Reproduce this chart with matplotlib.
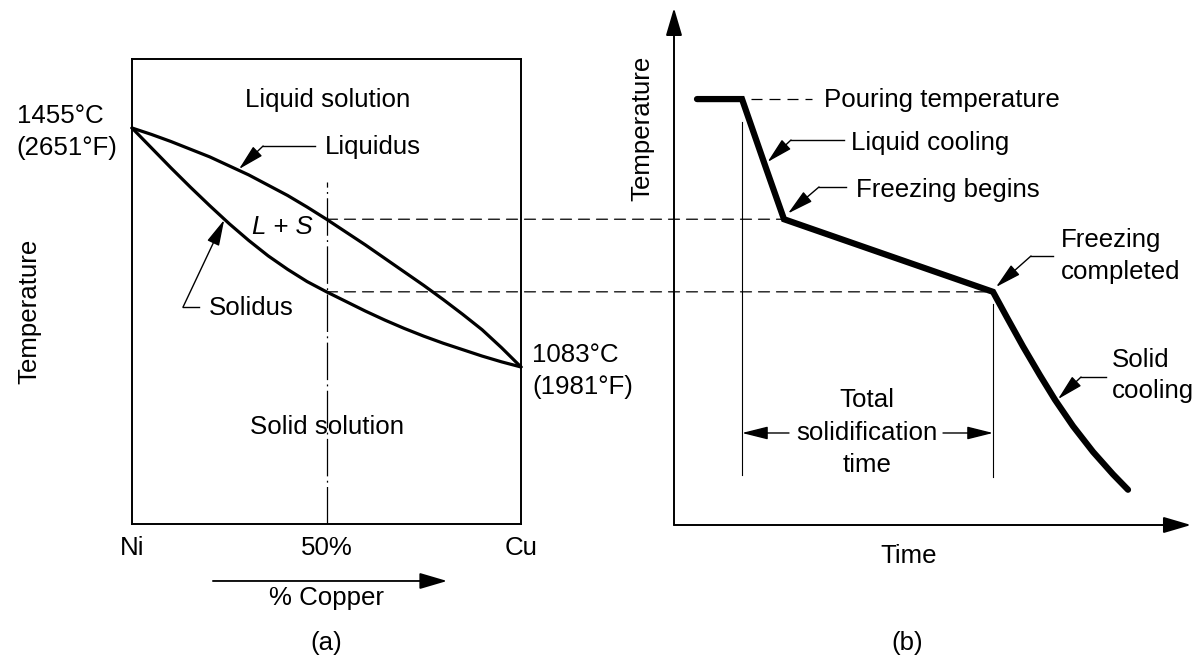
import matplotlib
matplotlib.use("Agg")
import matplotlib.pyplot as plt
from matplotlib.patches import ConnectionPatch

plt.rcParams['font.family'] = ['Liberation Sans', 'DejaVu Sans']

# ---------------- data: (a) Cu-Ni phase diagram ----------------
copper_pct = [0, 5, 10, 15, 20, 25, 30, 35, 40, 45, 50,
              55, 60, 65, 70, 75, 80, 85, 90, 95, 100]
liquidus_T = [1455, 1445, 1434, 1422, 1410, 1396, 1382, 1366, 1350, 1332, 1313,
              1293, 1273, 1252, 1231, 1210, 1188, 1165, 1141, 1113, 1083]
solidus_T = [1455, 1424, 1393, 1363, 1334, 1306, 1280, 1256, 1235, 1216, 1200,
             1185, 1170, 1156, 1143, 1131, 1120, 1110, 1100, 1091, 1083]
comp_labels = ['Ni', '50%', 'Cu']
comp_label_pos = [0, 50, 100]
alloy_pct = 50
freeze_begin_T = 1313
freeze_end_T = 1200

# ---------------- data: (b) cooling curve ----------------
time_pts = [2.3, 6.8, 9.1, 11.0, 31.9, 33.3, 34.9, 36.6, 38.1, 39.9, 41.9, 43.9, 45.4]
temp_pts = [1500, 1500, 1397, 1313, 1200, 1160, 1115, 1070, 1032, 991, 951, 916, 892]
pour_end_t = 6.8
freeze_begin_t = 11.0
freeze_end_t = 31.9

FS = 18.6
W, H = 1194, 659


def px_rect(x0, y0, x1, y1):
    return [x0 / W, 1 - y1 / H, (x1 - x0) / W, (y1 - y0) / H]


fig = plt.figure(figsize=(11.94, 6.59), dpi=100)
fig.patch.set_facecolor('white')

# ---------------- panel (a) ----------------
axA = fig.add_axes(px_rect(132, 59, 521, 524))
axA.set_xlim(0, 100)
axA.set_ylim(838.6, 1562.4)
axA.set_xticks([])
axA.set_yticks([])
for s in axA.spines.values():
    s.set_linewidth(1.4)

axA.plot(copper_pct, liquidus_T, color='k', lw=2.3, solid_capstyle='round',
         solid_joinstyle='round', clip_on=False, zorder=3)
axA.plot(copper_pct, solidus_T, color='k', lw=2.3, solid_capstyle='round',
         solid_joinstyle='round', clip_on=False, zorder=3)

# composition line (dash-dot)
axA.plot([alloy_pct, alloy_pct], [838.6, 1371], color='k', lw=0.9,
         linestyle=(0, (30, 3.5, 1.5, 3.5)), zorder=2)

txt = dict(fontsize=FS, color='k')
axA.text(50.4, 1498.6, 'Liquid solution', ha='center', va='center', **txt)
axA.text(50, 989.6, 'Solid solution', ha='center', va='center', **txt)
axA.text(38.6, 1301, 'L + S', ha='center', va='center', style='italic', **txt)
axA.text(-29.6, 1449, '1455°C\n(2651°F)', ha='left', va='center', linespacing=1.4, **txt)
axA.text(102.8, 1077, '1083°C\n(1981°F)', ha='left', va='center', linespacing=1.4, **txt)
axA.text(-26.5, 1170, 'Temperature', rotation=90, ha='center', va='center', **txt)
for lab, pos in zip(comp_labels, comp_label_pos):
    axA.text(pos, 801.3, lab, ha='center', va='center', **txt)
axA.text(50, 723.4, '% Copper', ha='center', va='center', **txt)
axA.text(50, 653.4, '(a)', ha='center', va='center', **txt)

# % Copper arrow
axA.annotate('', xy=(81.0, 749.9), xytext=(20.8, 749.9), xycoords='data',
             arrowprops=dict(arrowstyle='-|>,head_length=0.85,head_width=0.25',
                             mutation_scale=20, lw=1.3, color='k',
                             shrinkA=0, shrinkB=0), annotation_clip=False)


def leader(ax, h0, h1, hy, tip):
    ax.plot([h0, h1], [hy, hy], color='k', lw=1.0, clip_on=False)
    ax.annotate('', xy=tip, xytext=(h1, hy),
                arrowprops=dict(arrowstyle='-|>,head_length=0.8,head_width=0.2',
                                mutation_scale=20, lw=1.0, color='k',
                                shrinkA=0, shrinkB=0), annotation_clip=False)


axA.text(49.6, 1425.4, 'Liquidus', ha='left', va='center', **txt)
leader(axA, 47.0, 33.7, 1427, (27.5, 1391))
axA.text(19.8, 1174.8, 'Solidus', ha='left', va='center', **txt)
leader(axA, 17.2, 13.1, 1176, (23.7, 1312))

# ---------------- panel (b) ----------------
axB = fig.add_axes(px_rect(674, 0, 1194, 525))
axB.set_xlim(0, 52)
axB.set_ylim(837.1, 1654.2)
axB.axis('off')

# axes arrows
axB.annotate('', xy=(0, 1641.8), xytext=(0, 837.1),
             arrowprops=dict(arrowstyle='-|>,head_length=0.85,head_width=0.25',
                             mutation_scale=20, lw=1.4, color='k', shrinkA=0, shrinkB=0),
             annotation_clip=False)
axB.annotate('', xy=(51.7, 837.1), xytext=(0, 837.1),
             arrowprops=dict(arrowstyle='-|>,head_length=0.85,head_width=0.25',
                             mutation_scale=20, lw=1.4, color='k', shrinkA=0, shrinkB=0),
             annotation_clip=False)

axB.plot(time_pts, temp_pts, color='k', lw=4.5, solid_joinstyle='miter',
         solid_capstyle='round', clip_on=False, zorder=3)

# vertical markers for solidification time
axB.plot([pour_end_t, pour_end_t], [914.9, 1464.3], color='k', lw=0.8)
axB.plot([freeze_end_t, freeze_end_t], [912, 1181], color='k', lw=0.8)

for t0, t1 in [(11.5, pour_end_t), (26.9, freeze_end_t)]:
    axB.annotate('', xy=(t1, 980.3), xytext=(t0, 980.3),
                 arrowprops=dict(arrowstyle='-|>,head_length=0.8,head_width=0.2',
                                 mutation_scale=20, lw=1.0, color='k',
                                 shrinkA=0, shrinkB=0))
axB.text(19.3, 1031.6, 'Total', ha='center', va='center', **txt)
axB.text(19.3, 980.3, 'solidification', ha='center', va='center', **txt)
axB.text(19.3, 930.5, 'time', ha='center', va='center', **txt)

# pouring temperature leader (dashed)
axB.plot([7.7, 13.8], [1500, 1500], color='k', lw=0.9, linestyle=(0, (8.8, 5.6)))
axB.text(15.0, 1498.6, 'Pouring temperature', ha='left', va='center', **txt)

axB.text(17.7, 1431.7, 'Liquid cooling', ha='left', va='center', **txt)
leader(axB, 17.0, 11.7, 1436.3, (9.35, 1402))
axB.text(18.2, 1358.5, 'Freezing begins', ha='left', va='center', **txt)
leader(axB, 17.2, 14.5, 1363.2, (11.4, 1322))
axB.text(38.7, 1255.8, 'Freezing\ncompleted', ha='left', va='center', linespacing=1.4, **txt)
leader(axB, 37.9, 35.7, 1255.8, (32.2, 1207.5))
axB.text(43.8, 1069.7, 'Solid\ncooling', ha='left', va='center', linespacing=1.4, **txt)
leader(axB, 43.2, 40.7, 1067.4, (38.4, 1033))

axB.text(-3.2, 1455, 'Temperature', rotation=90, ha='center', va='center', **txt)
axB.text(23.5, 788.8, 'Time', ha='center', va='center', **txt)
axB.text(23.3, 653.4, '(b)', ha='center', va='center', **txt)

# dashed connection lines between the two panels
for Tc, tc in [(freeze_begin_T, freeze_begin_t), (freeze_end_T, freeze_end_t)]:
    con = ConnectionPatch(xyA=(alloy_pct, Tc), coordsA=axA.transData,
                          xyB=(tc, Tc), coordsB=axB.transData,
                          color='k', lw=0.9, linestyle=(0, (8.8, 5.6)), zorder=1)
    fig.add_artist(con)

fig.savefig('out.png', dpi=100, facecolor='white')
